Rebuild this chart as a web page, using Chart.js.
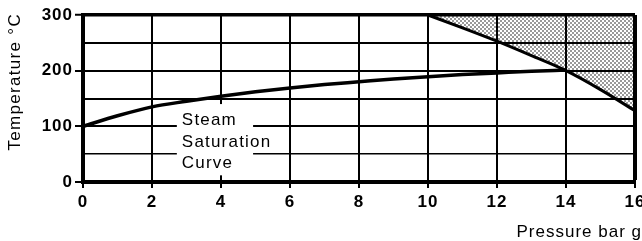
<!DOCTYPE html>
<html>
<head>
<meta charset="utf-8">
<script src="https://cdn.jsdelivr.net/npm/chart.js@4/dist/chart.umd.min.js"></script>
<style>
  html, body { margin: 0; padding: 0; background: #fff; }
  #wrap { width: 642px; height: 241px; }
</style>
</head>
<body>
<div id="wrap"><canvas id="chart"></canvas></div>
<script>
// steam saturation curve (pressure bar g -> temperature C)
const satPressure = [0, 1, 2, 3, 4, 5, 6, 7, 8, 9, 10, 11, 12, 13, 14];
const satTemp = [100, 119, 135, 145, 154, 162, 169, 175, 180, 185, 189, 193, 196, 199, 201];

// boundary of the shaded region
const limPressure = [10, 11, 12, 13, 14, 15, 16];
const limTemp = [300, 277, 253, 227, 200, 166, 128];

const xTicks = [0, 2, 4, 6, 8, 10, 12, 14, 16];
const yTicks = [0, 100, 200, 300];

const curveLabel = ['Steam', 'Saturation', 'Curve'];
const xTitle = 'Pressure bar g';
const yTitle = 'Temperature \u00b0C';

// dotted fill
const tile = document.createElement('canvas');
tile.width = 4; tile.height = 4;
const tctx = tile.getContext('2d');
tctx.fillStyle = '#000';
tctx.beginPath(); tctx.arc(1, 1, 0.75, 0, Math.PI * 2); tctx.fill();
tctx.beginPath(); tctx.arc(3, 3, 0.75, 0, Math.PI * 2); tctx.fill();
const dots = tctx.createPattern(tile, 'repeat');

const toPoints = (xs, ys) => xs.map((x, i) => ({ x, y: ys[i] }));

const extras = {
  id: 'extras',
  beforeDraw(chart) {
    chart.ctx.letterSpacing = '1px';
  },
  beforeDatasetsDraw(chart) {
    const { ctx, scales: { x, y } } = chart;
    ctx.save();
    // white box behind the curve label
    const l = x.getPixelForValue(2.72), r = x.getPixelForValue(4.93);
    const t = y.getPixelForValue(140), b = y.getPixelForValue(12);
    ctx.fillStyle = '#fff';
    ctx.fillRect(l, t, r - l, b - t);
    ctx.fillStyle = '#000';
    ctx.font = '17px "Liberation Sans", Arial, sans-serif';
    ctx.letterSpacing = '1.2px';
    ctx.textAlign = 'left';
    ctx.textBaseline = 'alphabetic';
    const base = y.getPixelForValue(102);
    curveLabel.forEach((s, i) => ctx.fillText(s, l + 5, base + i * 21.5));
    ctx.restore();
  },
  afterDraw(chart) {
    const { ctx } = chart;
    ctx.save();
    ctx.fillStyle = '#000';
    ctx.font = '17px "Liberation Sans", Arial, sans-serif';
    ctx.letterSpacing = '1px';
    ctx.textAlign = 'right';
    ctx.textBaseline = 'alphabetic';
    ctx.fillText(xTitle, chart.width, 237);
    ctx.translate(20, chart.chartArea.top - 2);
    ctx.rotate(-Math.PI / 2);
    ctx.letterSpacing = '1.3px';
    ctx.fillText(yTitle, 0, 0);
    ctx.restore();
  }
};

new Chart(document.getElementById('chart'), {
  type: 'line',
  data: {
    datasets: [
      {
        data: toPoints(satPressure, satTemp),
        borderColor: '#000',
        borderWidth: 3.5,
        pointRadius: 0,
        cubicInterpolationMode: 'monotone',
        fill: false
      },
      {
        data: toPoints(limPressure, limTemp),
        borderColor: '#000',
        borderWidth: 3,
        pointRadius: 0,
        cubicInterpolationMode: 'monotone',
        backgroundColor: dots,
        fill: 'end'
      }
    ]
  },
  options: {
    responsive: true,
    maintainAspectRatio: false,
    animation: false,
    events: [],
    layout: { padding: { left: 0, top: 15, right: 7, bottom: 0 } },
    plugins: { legend: { display: false }, tooltip: { enabled: false } },
    scales: {
      x: {
        type: 'linear',
        min: 0,
        max: 16,
        afterFit: s => { s.height = 59; s.paddingLeft = 0; s.paddingRight = 0; },
        afterBuildTicks: s => { s.ticks = xTicks.map(v => ({ value: v })); },
        grid: {
          color: '#000',
          lineWidth: c => (c.tick && c.tick.value === 16 ? 4 : 2),
          tickLength: 6,
          tickWidth: 2,
          tickColor: '#000'
        },
        border: { color: '#000', width: 4 },
        ticks: {
          color: '#000',
          padding: 4,
          maxRotation: 0,
          font: { family: '"Liberation Sans", Arial, sans-serif', size: 17, weight: 'bold' }
        }
      },
      y: {
        min: 0,
        max: 300,
        afterFit: s => { s.width = 83; },
        ticks: {
          stepSize: 50,
          color: '#000',
          padding: 2,
          callback: v => (yTicks.includes(v) ? String(v) : ''),
          font: { family: '"Liberation Sans", Arial, sans-serif', size: 17, weight: 'bold' }
        },
        grid: {
          color: '#000',
          lineWidth: c => {
            const v = c.tick ? c.tick.value : 0;
            if (v === 300) return 3.5;
            if (v === 50) return 1.5;
            return 2;
          },
          tickLength: 8,
          tickWidth: 2,
          tickColor: c => (c.tick && yTicks.includes(c.tick.value) ? '#000' : 'rgba(0,0,0,0)')
        },
        border: { color: '#000', width: 4 }
      }
    }
  },
  plugins: [extras]
});
</script>
</body>
</html>
